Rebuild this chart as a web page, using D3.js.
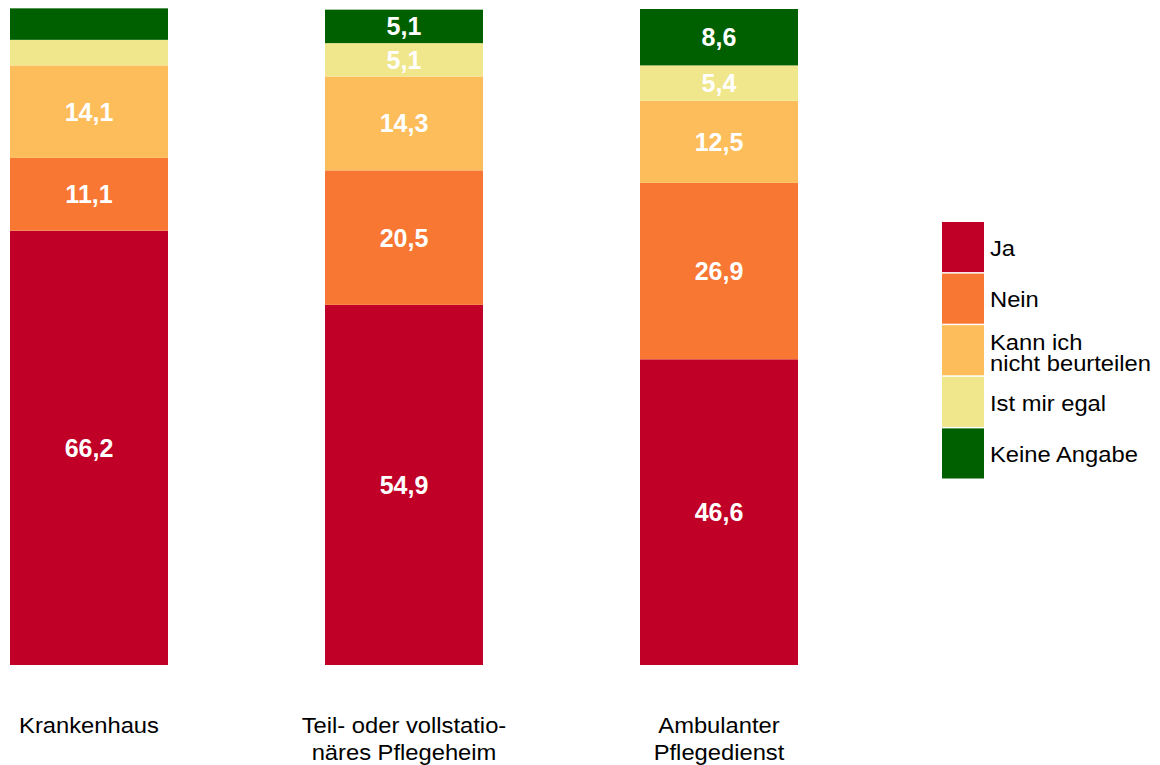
<!DOCTYPE html>
<html><head><meta charset="utf-8">
<script src="https://cdn.jsdelivr.net/npm/d3@7"></script>
<style>body{margin:0;background:#fff}svg{display:block}text{font-family:"Liberation Sans",Arial,sans-serif}</style>
</head><body><svg id="c" width="1160" height="765"></svg>
<script>
const categories = [["Krankenhaus"], ["Teil- oder vollstatio-", "näres Pflegeheim"], ["Ambulanter", "Pflegedienst"]];
const seriesNames = [["Ja"], ["Nein"], ["Kann ich", "nicht beurteilen"], ["Ist mir egal"], ["Keine Angabe"]];
const ja = [66.2, 54.9, 46.6];
const nein = [11.1, 20.5, 26.9];
const kann = [14.1, 14.3, 12.5];
const egal = [3.9, 5.1, 5.4];
const keine = [4.8, 5.1, 8.6];
const colors = ["#C00026", "#F87733", "#FDBD5A", "#F0E68C", "#006000"];

const series = [ja, nein, kann, egal, keine];
const svg = d3.select("#c");
const xb = d3.scalePoint().domain([0,1,2]).range([89, 719]);
const bw = 158;
const y = d3.scaleLinear().domain([0, 100]).range([665, 9]);

const data = categories.map((c, i) => {
  const o = {i};
  series.forEach((s, k) => o["s" + k] = s[i]);
  return o;
});
const stack = d3.stack().keys(series.map((s, k) => "s" + k))(data);

const g = svg.append("g");
stack.forEach((layer, k) => {
  layer.forEach((d, i) => {
    const cx = xb(i);
    g.append("rect").attr("x", cx - bw/2).attr("width", bw)
      .attr("y", y(d[1])).attr("height", y(d[0]) - y(d[1]))
      .attr("fill", colors[k]);
    const v = d[1] - d[0];
    if (v >= 5) {
      g.append("text").attr("x", cx).attr("y", (y(d[0]) + y(d[1]))/2 + 9)
        .attr("text-anchor", "middle").attr("fill", "#fff")
        .attr("font-weight", "bold").attr("font-size", 25)
        .text(d3.format(".1f")(v).replace(".", ","));
    }
  });
});

const SX = 1.08;
// category labels
categories.forEach((lines, i) => {
  lines.forEach((l, j) => {
    svg.append("g").attr("transform", `translate(${xb(i)},${733 + j * 27}) scale(${SX},1)`)
      .append("text").attr("text-anchor", "middle")
      .attr("font-size", 22).attr("fill", "#000").text(l);
  });
});

// legend
const ly = d3.scaleBand().domain(d3.range(5)).range([222, 480]);
seriesNames.forEach((lines, k) => {
  svg.append("rect").attr("x", 942).attr("width", 42)
    .attr("y", ly(k)).attr("height", ly.bandwidth() - 1.5).attr("fill", colors[k]);
  const cy = ly(k) + ly.bandwidth()/2;
  const y0 = cy + 8 - (lines.length - 1) * 9.5;
  lines.forEach((l, j) => {
    svg.append("g").attr("transform", `translate(990,${y0 + j * 21}) scale(${SX},1)`)
      .append("text").attr("font-size", 22).attr("fill", "#000").text(l);
  });
});
</script></body></html>
